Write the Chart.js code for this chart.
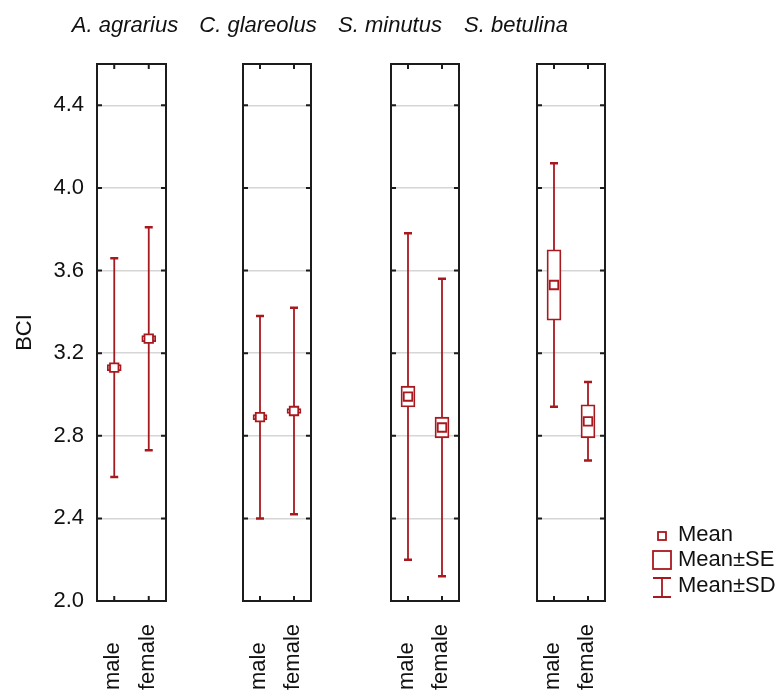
<!DOCTYPE html>
<html>
<head>
<meta charset="utf-8">
<title>BCI by species and sex</title>
<script src="https://cdn.jsdelivr.net/npm/chart.js@4.4.1/dist/chart.umd.min.js"></script>
<style>
  body { margin: 0; background: #fff; }
  #wrap { position: relative; width: 779px; height: 698px; overflow: hidden; }
  #wrap canvas { position: absolute; left: 0; top: 0; }
</style>
</head>
<body>
<div id="wrap">
  <canvas id="panel0" width="779" height="698"></canvas>
  <canvas id="panel1" width="779" height="698"></canvas>
  <canvas id="panel2" width="779" height="698"></canvas>
  <canvas id="panel3" width="779" height="698"></canvas>
</div>
<script>
// data
const speciesNames = ["A. agrarius", "C. glareolus", "S. minutus", "S. betulina"];
const sexLabels = ["male", "female"];
const meanBCI = [[3.13, 3.27], [2.89, 2.92], [2.99, 2.84], [3.53, 2.87]];
const seBCI = [[0.015, 0.015], [0.012, 0.012], [0.05, 0.05], [0.17, 0.08]];
const sdBCI = [[0.53, 0.54], [0.49, 0.50], [0.79, 0.72], [0.59, 0.19]];
const yTickValues = [2.0, 2.4, 2.8, 3.2, 3.6, 4.0, 4.4];
const legendLabels = ["Mean", "Mean\u00b1SE", "Mean\u00b1SD"];

// layout
const panelLeft = [97, 243, 391, 537];
const panelRight = [166, 311, 459, 605];
const titleCenter = [125, 258, 390, 516];
const red = "#a8191f";
const ink = "#111";
const font = { family: "'Liberation Sans', Arial, sans-serif", size: 22 };

//whiskers for mean +- SD, drawn under the boxes
const sdWhiskers = {
  id: "sdWhiskers",
  beforeDatasetsDraw(chart, args, opts) {
    const { ctx, scales: { x, y } } = chart;
    ctx.save();
    ctx.strokeStyle = red;
    opts.mean.forEach((m, j) => {
      const px = x.getPixelForValue(j);
      const top = y.getPixelForValue(m + opts.sd[j]);
      const bottom = y.getPixelForValue(m - opts.sd[j]);
      ctx.lineWidth = 1.8;
      ctx.beginPath();
      ctx.moveTo(px, top);
      ctx.lineTo(px, bottom);
      ctx.stroke();
      ctx.lineWidth = 2.5;
      ctx.beginPath();
      ctx.moveTo(px - 4, top);
      ctx.lineTo(px + 4, top);
      ctx.moveTo(px - 4, bottom);
      ctx.lineTo(px + 4, bottom);
      ctx.stroke();
    });
    ctx.restore();
  }
};

//frame, inner tick marks, title, rotated category labels
const panelFrame = {
  id: "panelFrame",
  afterDraw(chart, args, opts) {
    const { ctx, chartArea: a, scales: { x, y } } = chart;
    ctx.save();
    ctx.strokeStyle = "#1c1c1c";
    ctx.lineWidth = 2;
    ctx.strokeRect(a.left, a.top, a.right - a.left, a.bottom - a.top);
    ctx.beginPath();
    yTickValues.forEach(v => {
      const py = y.getPixelForValue(v);
      ctx.moveTo(a.left, py);
      ctx.lineTo(a.left + 5, py);
      ctx.moveTo(a.right, py);
      ctx.lineTo(a.right - 5, py);
    });
    sexLabels.forEach((s, j) => {
      const px = x.getPixelForValue(j);
      ctx.moveTo(px, a.top);
      ctx.lineTo(px, a.top + 5);
      ctx.moveTo(px, a.bottom);
      ctx.lineTo(px, a.bottom - 5);
    });
    ctx.stroke();

    ctx.fillStyle = ink;
    ctx.font = "italic 22px " + font.family;
    ctx.textAlign = "center";
    ctx.textBaseline = "alphabetic";
    ctx.fillText(opts.title, opts.titleX, 32);

    ctx.font = "22px " + font.family;
    ctx.textAlign = "left";
    sexLabels.forEach((s, j) => {
      const px = x.getPixelForValue(j);
      ctx.save();
      ctx.translate(px + 5, 690);
      ctx.rotate(-Math.PI / 2);
      ctx.fillText(s, 0, 0);
      ctx.restore();
    });
    ctx.restore();
  }
};

//legend with the three marker kinds
const markerLegend = {
  id: "markerLegend",
  afterDraw(chart, args, opts) {
    if (!opts.show) return;
    const ctx = chart.ctx;
    const cx = 662;
    ctx.save();
    ctx.strokeStyle = red;
    ctx.lineWidth = 1.8;
    ctx.strokeRect(cx - 4, 532, 8, 8);
    ctx.strokeRect(cx - 9, 551, 18, 18);
    ctx.beginPath();
    ctx.moveTo(cx, 578);
    ctx.lineTo(cx, 597);
    ctx.moveTo(cx - 9, 578);
    ctx.lineTo(cx + 9, 578);
    ctx.moveTo(cx - 9, 597);
    ctx.lineTo(cx + 9, 597);
    ctx.stroke();
    ctx.fillStyle = ink;
    ctx.font = "22px " + font.family;
    ctx.textAlign = "left";
    ctx.textBaseline = "middle";
    [535, 560, 586].forEach((py, k) => ctx.fillText(legendLabels[k], 678, py));
    ctx.restore();
  }
};

const makePanel = (i) => {
  const ctx = document.getElementById("panel" + i).getContext("2d");
  return new Chart(ctx, {
    type: "bar",
    data: {
      labels: sexLabels,
      datasets: [
        {
          type: "line",
          label: "Mean",
          data: meanBCI[i],
          showLine: false,
          pointStyle: "rect",
          pointRadius: 6,
          pointHoverRadius: 6,
          pointBorderWidth: 1.8,
          pointBackgroundColor: "#fff",
          pointBorderColor: red,
          borderColor: red,
          order: 0
        },
        {
          label: "Mean\u00b1SE",
          data: meanBCI[i].map((m, j) => [m - seBCI[i][j], m + seBCI[i][j]]),
          backgroundColor: "#fff",
          borderColor: red,
          borderWidth: 1.8,
          borderSkipped: false,
          barThickness: 14,
          order: 1
        }
      ]
    },
    options: {
      responsive: false,
      animation: false,
      devicePixelRatio: 1,
      layout: {
        padding: { left: i === 0 ? 8 : panelLeft[i], right: 779 - panelRight[i], top: 64, bottom: 0 }
      },
      scales: {
        x: {
          grid: { display: false },
          border: { display: false },
          ticks: { display: false },
          afterFit: (s) => { s.height = 97; }
        },
        y: {
          min: 2.0,
          max: 4.6,
          afterBuildTicks: (s) => { s.ticks = yTickValues.map(v => ({ value: v })); },
          grid: { color: "#d6d6d6", lineWidth: 1.5, drawTicks: false },
          border: { display: false },
          ticks: {
            display: i === 0,
            padding: 13,
            color: ink,
            font: font,
            callback: (v) => Number(v).toFixed(1)
          },
          title: { display: i === 0, text: "BCI", color: ink, font: font, padding: 4 },
          afterFit: (s) => { s.width = i === 0 ? 89 : 0; }
        }
      },
      plugins: {
        legend: { display: false },
        tooltip: { enabled: false },
        sdWhiskers: { mean: meanBCI[i], sd: sdBCI[i] },
        panelFrame: { title: speciesNames[i], titleX: titleCenter[i] },
        markerLegend: { show: i === 3 }
      }
    },
    plugins: [sdWhiskers, panelFrame, markerLegend]
  });
};

speciesNames.forEach((name, i) => makePanel(i));
</script>
</body>
</html>
